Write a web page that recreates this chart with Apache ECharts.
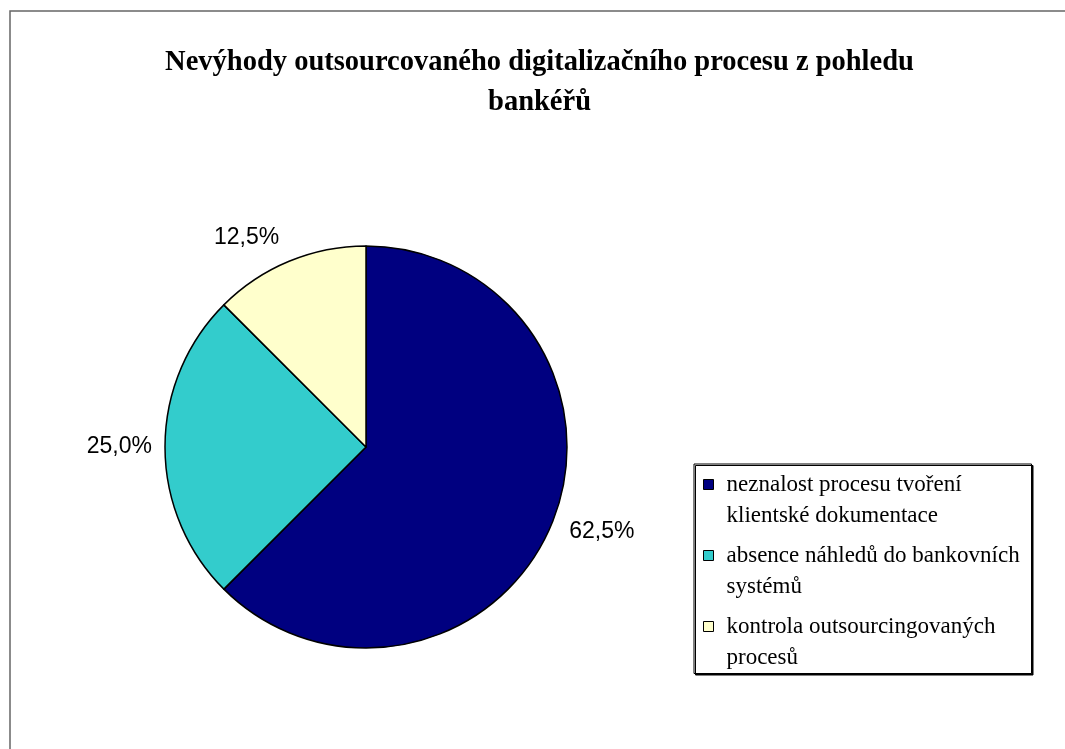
<!DOCTYPE html>
<html>
<head>
<meta charset="utf-8">
<script src="https://cdn.jsdelivr.net/npm/echarts@6/dist/echarts.min.js"></script>
<style>
html,body{margin:0;padding:0;background:#fff;}
#chart{width:1065px;height:749px;}
</style>
</head>
<body>
<div id="chart"></div>
<script>
const titleText = 'Nevýhody outsourcovaného digitalizačního procesu z pohledu\nbankéřů';
const categories = [
  'neznalost procesu tvoření klientské dokumentace',
  'absence náhledů do bankovních systémů',
  'kontrola outsourcingovaných procesů'
];
const legendLabels = [
  'neznalost procesu tvoření\nklientské dokumentace',
  'absence náhledů do bankovních\nsystémů',
  'kontrola outsourcingovaných\nprocesů'
];
const values = [62.5, 25.0, 12.5];
const colors = ['#000080', '#33CCCC', '#FFFFCC'];
const labelLengths = [19, 13, 26];

const chart = echarts.init(document.getElementById('chart'), null, {renderer: 'canvas'});

const option = {
  backgroundColor: '#ffffff',
  animation: false,
  graphic: [{
    type: 'rect',
    shape: {x: 10, y: 11, width: 1100, height: 800},
    style: {fill: 'none', stroke: '#666666', lineWidth: 1.5},
    silent: true,
    z: -10
  }],
  title: {
    text: titleText,
    left: 539.5,
    top: 43,
    padding: 0,
    textAlign: 'center',
    textStyle: {
      fontFamily: 'Liberation Serif',
      fontWeight: 'bold',
      fontSize: 28.5,
      lineHeight: 40,
      color: '#000'
    }
  },
  legend: {
    orient: 'vertical',
    left: 694,
    top: 464,
    padding: [4.5, 0, 0, 9],
    itemGap: 8,
    itemWidth: 18,
    itemHeight: 62,
    icon: 'path://M0,0M0,10.5h10v10h-10zM18,62',
    itemStyle: {borderColor: '#000', borderWidth: 1},
    backgroundColor: '#fff',
    borderColor: '#000',
    borderWidth: 1,
    shadowColor: '#000',
    shadowOffsetX: 1.5,
    shadowOffsetY: 1.5,
    shadowBlur: 0,
    selectedMode: false,
    formatter: name => legendLabels[categories.indexOf(name)],
    textStyle: {
      fontFamily: 'Liberation Serif',
      fontSize: 23,
      lineHeight: 31,
      color: '#000',
      width: 305,
      overflow: 'none'
    },
    data: categories
  },
  series: [{
    type: 'pie',
    center: [366, 447],
    radius: 201,
    startAngle: 90,
    clockwise: true,
    avoidLabelOverlap: false,
    itemStyle: {borderColor: '#000', borderWidth: 1.5},
    emphasis: {disabled: true},
    label: {
      show: true,
      position: 'outside',
      distanceToLabelLine: 0,
      fontFamily: 'Liberation Sans',
      fontSize: 23,
      color: '#000',
      formatter: p => p.value.toFixed(1).replace('.', ',') + '%'
    },
    labelLine: {show: false, length2: 0},
    data: categories.map((name, i) => ({
      name: name,
      value: values[i],
      itemStyle: {color: colors[i]},
      labelLine: {show: false, length: labelLengths[i], length2: 0}
    }))
  }]
};
chart.setOption(option);
</script>
</body>
</html>
